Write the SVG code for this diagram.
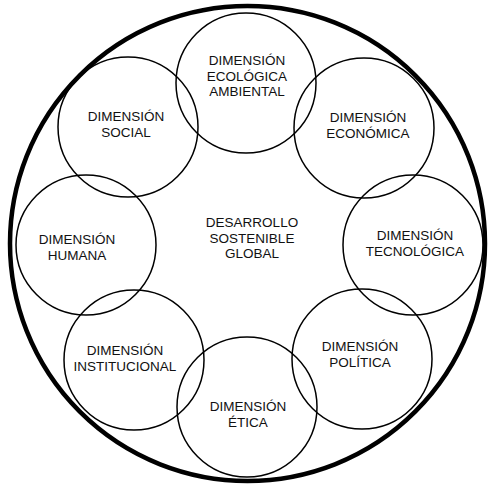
<svg xmlns="http://www.w3.org/2000/svg" width="490" height="486" viewBox="0 0 490 486">
<style>
.outer{fill:none;stroke:#000;stroke-width:4.5}
.c{fill:none;stroke:#000;stroke-width:1.5}
text{font-family:"Liberation Sans",Arial,sans-serif;font-size:13.5px;fill:#111;text-anchor:middle}
</style>
<rect width="490" height="486" fill="#fff"/>
<g id="connectors"></g>
<g id="global">
<circle class="outer" cx="247.5" cy="243.5" r="237.5"/>
<text x="252" y="227">DESARROLLO</text>
<text x="252" y="243">SOSTENIBLE</text>
<text x="252" y="258">GLOBAL</text>
</g>
<g id="ecologica">
<circle class="c" cx="246" cy="83" r="70"/>
<text x="247" y="65">DIMENSIÓN</text>
<text x="247" y="80.5">ECOLÓGICA</text>
<text x="247" y="96">AMBIENTAL</text>
</g>
<g id="economica">
<circle class="c" cx="364" cy="128" r="70"/>
<text x="368" y="122">DIMENSIÓN</text>
<text x="368" y="138">ECONÓMICA</text>
</g>
<g id="tecnologica">
<circle class="c" cx="413" cy="245" r="70"/>
<text x="415" y="240">DIMENSIÓN</text>
<text x="415" y="255.5">TECNOLÓGICA</text>
</g>
<g id="politica">
<circle class="c" cx="362" cy="359" r="70"/>
<text x="360" y="351">DIMENSIÓN</text>
<text x="360" y="367">POLÍTICA</text>
</g>
<g id="etica">
<circle class="c" cx="247" cy="407" r="70"/>
<text x="248" y="411">DIMENSIÓN</text>
<text x="248" y="426.5">ÉTICA</text>
</g>
<g id="institucional">
<circle class="c" cx="134" cy="360" r="70"/>
<text x="125" y="355">DIMENSIÓN</text>
<text x="125" y="371">INSTITUCIONAL</text>
</g>
<g id="humana">
<circle class="c" cx="86" cy="245" r="70"/>
<text x="77" y="244">DIMENSIÓN</text>
<text x="77" y="260">HUMANA</text>
</g>
<g id="social">
<circle class="c" cx="128" cy="127" r="70"/>
<text x="126" y="121">DIMENSIÓN</text>
<text x="126" y="137">SOCIAL</text>
</g>
</svg>
